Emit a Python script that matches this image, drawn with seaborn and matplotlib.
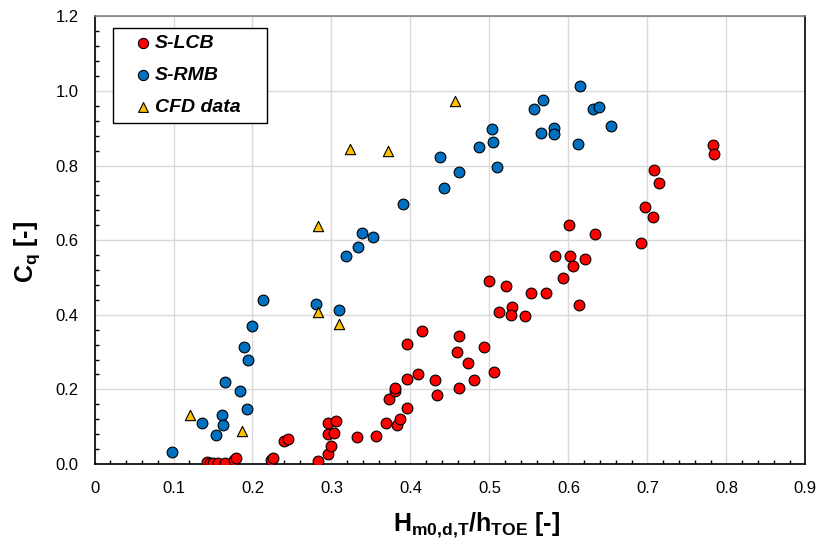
import numpy as np
import pandas as pd
import matplotlib
matplotlib.use("Agg")
import matplotlib.pyplot as plt
import seaborn as sns
from matplotlib.patches import Rectangle
from matplotlib.ticker import MultipleLocator, FuncFormatter

# S-LCB measurements
lcb_x = [0.142, 0.146, 0.150, 0.156, 0.165, 0.177, 0.179, 0.224, 0.226, 0.240,
         0.245, 0.283, 0.295, 0.300, 0.295, 0.303, 0.295, 0.306, 0.332, 0.357,
         0.369, 0.383, 0.387, 0.396, 0.373, 0.380, 0.381, 0.396, 0.410, 0.431,
         0.433, 0.461, 0.480, 0.506, 0.493, 0.473, 0.459, 0.462, 0.396, 0.415,
         0.499, 0.521, 0.512, 0.529, 0.527, 0.545, 0.553, 0.571, 0.583, 0.593,
         0.602, 0.606, 0.621, 0.614, 0.601, 0.634, 0.692, 0.697, 0.707, 0.708,
         0.715, 0.783, 0.784]
lcb_y = [0.005, 0.003, 0.004, 0.002, 0.002, 0.012, 0.015, 0.010, 0.017, 0.063,
         0.067, 0.009, 0.026, 0.049, 0.081, 0.082, 0.109, 0.116, 0.073, 0.075,
         0.109, 0.105, 0.122, 0.150, 0.175, 0.196, 0.205, 0.229, 0.240, 0.225,
         0.184, 0.203, 0.225, 0.248, 0.313, 0.270, 0.300, 0.344, 0.321, 0.357,
         0.490, 0.477, 0.407, 0.420, 0.399, 0.398, 0.459, 0.459, 0.559, 0.499,
         0.558, 0.530, 0.549, 0.426, 0.642, 0.616, 0.593, 0.688, 0.663, 0.788,
         0.753, 0.855, 0.831]

# S-RMB measurements
rmb_x = [0.098, 0.136, 0.154, 0.161, 0.163, 0.165, 0.184, 0.193, 0.189, 0.194,
         0.200, 0.213, 0.280, 0.310, 0.318, 0.333, 0.339, 0.353, 0.391, 0.438,
         0.442, 0.461, 0.487, 0.503, 0.505, 0.509, 0.556, 0.565, 0.568, 0.582,
         0.582, 0.612, 0.615, 0.631, 0.639, 0.654]
rmb_y = [0.033, 0.110, 0.078, 0.131, 0.105, 0.221, 0.196, 0.147, 0.313, 0.278,
         0.369, 0.439, 0.430, 0.413, 0.557, 0.581, 0.620, 0.609, 0.696, 0.822,
         0.741, 0.782, 0.850, 0.897, 0.864, 0.797, 0.952, 0.888, 0.976, 0.902,
         0.884, 0.859, 1.014, 0.952, 0.958, 0.906]

# CFD results
cfd_x = [0.121, 0.187, 0.283, 0.283, 0.310, 0.323, 0.371, 0.456]
cfd_y = [0.131, 0.088, 0.408, 0.638, 0.375, 0.845, 0.840, 0.974]

sns.set_style("white")
plt.rcParams["font.family"] = ["Liberation Sans", "DejaVu Sans"]
plt.rcParams["mathtext.fontset"] = "custom"
plt.rcParams["mathtext.rm"] = "Liberation Sans"
plt.rcParams["mathtext.bf"] = "Liberation Sans:bold"
plt.rcParams["text.color"] = "black"
plt.rcParams["axes.labelcolor"] = "black"

fig = plt.figure(figsize=(8.19, 5.42), dpi=100)
ax = fig.add_axes([0.1154, 0.1439, 0.868, 0.8258])

sns.scatterplot(x=lcb_x, y=lcb_y, ax=ax, color="#FF0000", marker="o", s=60,
                edgecolor="black", linewidth=0.8, label="S-LCB", zorder=3)
sns.scatterplot(x=rmb_x, y=rmb_y, ax=ax, color="#0070C0", marker="o", s=60,
                edgecolor="black", linewidth=0.8, label="S-RMB", zorder=3)
sns.scatterplot(x=cfd_x, y=cfd_y, ax=ax, color="#FFC000", marker="^", s=55,
                edgecolor="black", linewidth=0.8, label="CFD data", zorder=3)

ax.set_xlim(0, 0.9)
ax.set_ylim(0, 1.2)
ax.xaxis.set_major_locator(MultipleLocator(0.1))
ax.xaxis.set_minor_locator(MultipleLocator(0.02))
ax.yaxis.set_major_locator(MultipleLocator(0.2))
ax.yaxis.set_minor_locator(MultipleLocator(0.04))
ax.xaxis.set_major_formatter(FuncFormatter(lambda v, p: "0" if abs(v) < 1e-9 else f"{v:.1f}"))
ax.yaxis.set_major_formatter(FuncFormatter(lambda v, p: f"{v:.1f}"))

ax.grid(True, which="major", color="#D9D9D9", linewidth=1.0, zorder=0)
ax.set_axisbelow(True)
ax.tick_params(which="both", direction="in", top=False, right=False,
               colors="black", labelsize=12)
ax.tick_params(which="major", length=5, width=1)
ax.tick_params(which="minor", length=3, width=1, left=True, bottom=True)
ax.tick_params(axis="x", which="major", pad=12)
ax.tick_params(axis="y", which="major", pad=11.5)
for name, sp in ax.spines.items():
    sp.set_color("black")
    sp.set_linewidth(1.2)
ax.spines["top"].set_color("#808080")

ax.set_xlabel(r"$\mathbf{H_{m0{,}d{,}T}/h_{TOE}}$ [-]", fontsize=18, fontweight="bold")
ax.xaxis.set_label_coords(0.537, -0.105)
ax.set_ylabel(r"$\mathbf{C_q}$ [-]", fontsize=18, fontweight="bold")
ax.yaxis.set_label_coords(-0.074, 0.474)

# legend entries without frame, frame drawn as its own box
leg = ax.legend(loc="center left", bbox_to_anchor=(0.060, 0.869), borderaxespad=0,
                frameon=False, prop={"weight": "bold", "style": "italic", "size": 14},
                handlelength=0.6, handletextpad=0.32, labelspacing=0.74,
                borderpad=0, markerscale=0.95)
ax.add_patch(Rectangle((0.026, 0.762), 0.2166, 0.212, transform=ax.transAxes,
                       facecolor="white", edgecolor="black", linewidth=1.0, zorder=4))
leg.set_zorder(5)

fig.savefig("out.png", dpi=100)
